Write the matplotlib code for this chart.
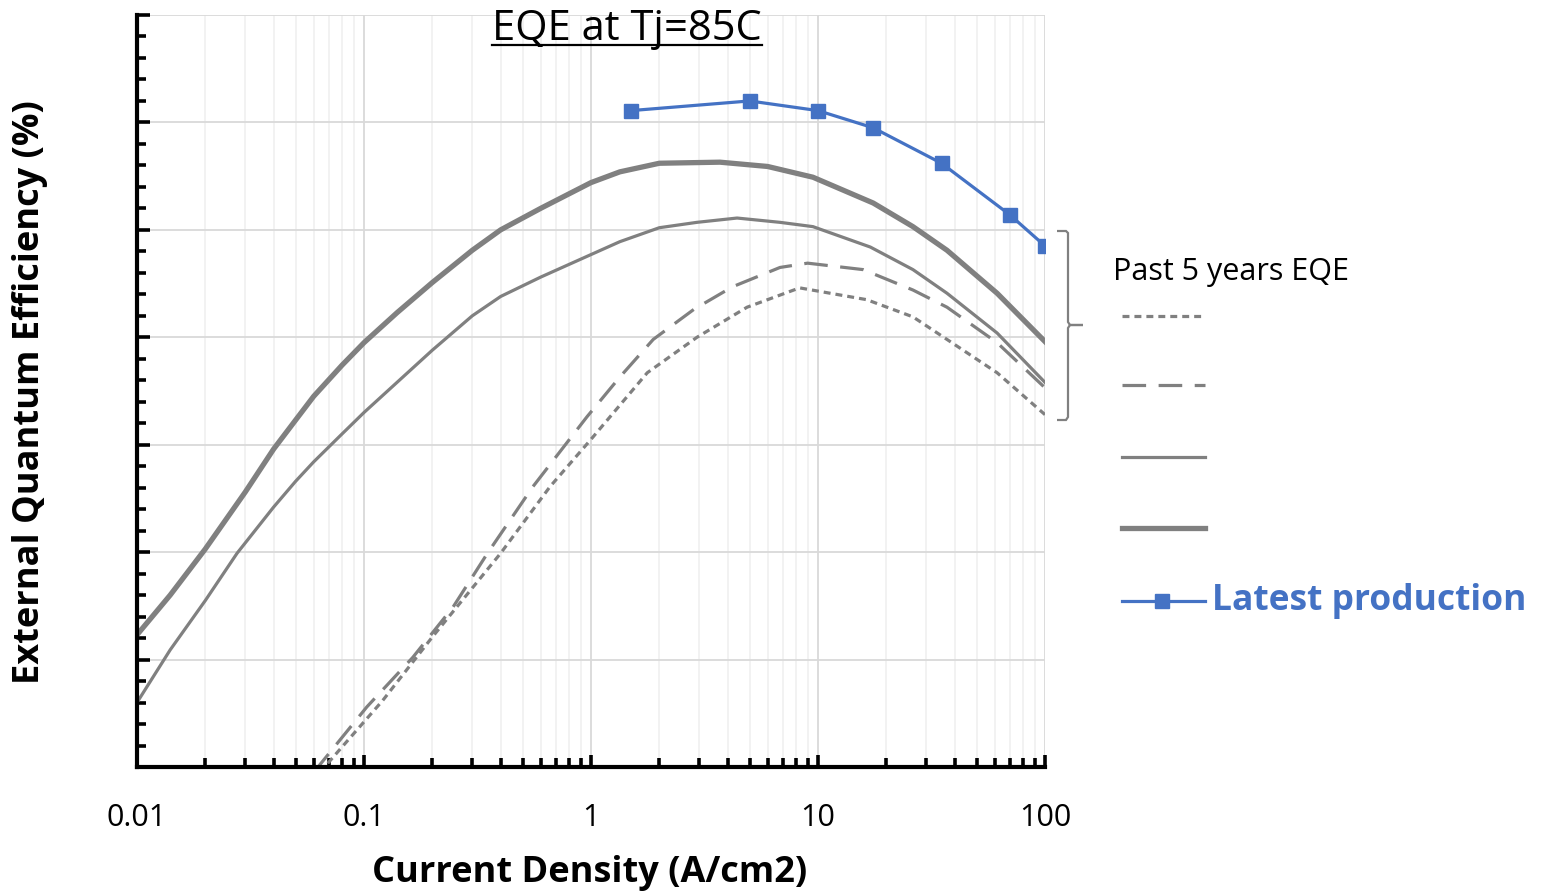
import matplotlib
matplotlib.use('Agg')
from matplotlib import pyplot as plt
from matplotlib.ticker import LogLocator, MultipleLocator, NullFormatter, FixedLocator
from matplotlib.lines import Line2D
from matplotlib.path import Path
from matplotlib.patches import PathPatch

plt.rcParams['font.family'] = ['Open Sans', 'DejaVu Sans']
plt.rcParams['lines.scale_dashes'] = False

# 读取图中的曲线数值（电流密度 A/cm2, EQE 相对刻度）
thick_x = [0.01, 0.014, 0.02, 0.03, 0.04, 0.05, 0.06, 0.08, 0.1, 0.14, 0.2, 0.3, 0.4, 0.6,
           1.0, 1.34, 2.0, 3.7, 6.0, 9.5, 17.5, 26.2, 37, 61.5, 100]
thick_y = [12.3, 16.0, 20.3, 25.6, 29.6, 32.3, 34.5, 37.4, 39.5, 42.3, 45.1, 48.1, 50.0, 52.0,
           54.4, 55.4, 56.2, 56.3, 55.9, 54.9, 52.5, 50.3, 48.1, 44.1, 39.6]

thin_x = [0.01, 0.014, 0.02, 0.0276, 0.04, 0.05, 0.06, 0.08, 0.1, 0.2, 0.3, 0.4, 0.6,
          1.0, 1.34, 2.0, 2.93, 4.4, 6.8, 9.5, 17, 26.2, 37, 61.5, 100]
thin_y = [6.0, 10.9, 15.5, 19.9, 24.2, 26.6, 28.4, 31.0, 33.0, 38.8, 42.0, 43.8, 45.6,
          47.7, 48.9, 50.2, 50.7, 51.1, 50.7, 50.3, 48.4, 46.3, 44.1, 40.4, 35.8]

dash_x = [0.06, 0.103, 0.164, 0.247, 0.35, 0.555, 0.96, 1.34, 1.88, 2.84, 4.2, 6.8,
          9.0, 15.8, 26.2, 37, 61.5, 100]
dash_y = [-0.5, 5.6, 10.2, 14.9, 19.9, 26.1, 32.6, 36.3, 39.8, 42.6, 44.7, 46.5,
          46.9, 46.3, 44.4, 42.8, 39.5, 35.3]

dot_x = [0.064, 0.073, 0.121, 0.20, 0.40, 0.66, 1.0, 1.77, 2.93, 4.87, 8.3, 16.4,
         26.2, 37, 61.5, 100]
dot_y = [-0.5, 0.9, 6.2, 12.1, 19.9, 26.1, 30.5, 36.7, 40.0, 42.8, 44.6, 43.5,
         41.9, 39.8, 36.7, 32.8]

latest_x = [1.5, 5, 10, 17.5, 35, 70, 100]
latest_y = [61.1, 62.0, 61.1, 59.5, 56.2, 51.4, 48.5]

xticks = [0.01, 0.1, 1, 10, 100]
xtick_labels = ['0.01', '0.1', '1', '10', '100']

gray = '#808080'
blue = '#4472C4'

W, H = 1546, 893
fig = plt.figure(figsize=(W / 100, H / 100), dpi=100)
ax = fig.add_axes([137 / W, 1 - 767 / H, (1045 - 137) / W, (767 - 15) / H])

def fx(px):
    return px / W

def fy(py):
    return 1 - py / H

ax.plot(dot_x, dot_y, color=gray, lw=2.3, dashes=(5, 3.6), dash_capstyle='butt')
ax.plot(dash_x, dash_y, color=gray, lw=2.3, dashes=(17, 9), dash_capstyle='butt')
ax.plot(thin_x, thin_y, color=gray, lw=2.3)
ax.plot(thick_x, thick_y, color=gray, lw=3.8)
ax.plot(latest_x, latest_y, color=blue, lw=2.3, marker='s', markersize=9.5)

ax.set_xscale('log')
ax.set_xlim(0.01, 100)
ax.set_ylim(0, 70)
ax.xaxis.set_major_locator(FixedLocator(xticks))
ax.set_xticklabels(xtick_labels)
ax.xaxis.set_minor_locator(LogLocator(base=10, subs=range(2, 10)))
ax.xaxis.set_minor_formatter(NullFormatter())
ax.yaxis.set_major_locator(MultipleLocator(10))
ax.yaxis.set_minor_locator(MultipleLocator(2))
ax.set_yticklabels([])

ax.grid(which='major', color='#d9d9d9', lw=1.3)
ax.grid(which='minor', axis='x', color='#efefef', lw=1.1)
ax.set_axisbelow(True)

for s in ['top', 'right']:
    ax.spines[s].set_visible(False)
for s in ['left', 'bottom']:
    ax.spines[s].set_linewidth(3)
    ax.spines[s].set_color('black')

ax.tick_params(which='major', direction='in', length=9, width=2.6, labelsize=22, pad=26)
ax.tick_params(which='minor', direction='in', length=6.5, width=2.6)

fig.text(fx(590), fy(873), 'Current Density (A/cm2)', fontsize=26, fontweight='bold',
         ha='center', va='center')
fig.text(fx(30), fy(392), 'External Quantum Efficiency (%)', fontsize=26, fontweight='bold',
         ha='center', va='center', rotation=90)

# 标题（带下划线）
title = fig.text(fx(627), fy(40), 'EQE at Tj=85C', fontsize=30, ha='center', va='baseline')
fig.canvas.draw()
bb = title.get_window_extent().transformed(fig.transFigure.inverted())
fig.add_artist(Line2D([bb.x0, bb.x1], [fy(45), fy(45)], color='black', lw=1.6))

# 右侧自定义图例
fig.text(fx(1113), fy(272), 'Past 5 years EQE', fontsize=22, ha='left', va='center')
lx = [fx(1122), fx(1205)]
fig.add_artist(Line2D(lx, [fy(316)] * 2, color=gray, lw=2.3, dashes=(5, 3.6), dash_capstyle='butt'))
fig.add_artist(Line2D(lx, [fy(385)] * 2, color=gray, lw=2.3, dashes=(17, 9), dash_capstyle='butt'))
fig.add_artist(Line2D(lx, [fy(457)] * 2, color=gray, lw=2.3))
fig.add_artist(Line2D(lx, [fy(528)] * 2, color=gray, lw=3.8))
fig.add_artist(Line2D(lx, [fy(601)] * 2, color=blue, lw=2.3))
fig.add_artist(Line2D([fx(1162)], [fy(601)], color=blue, marker='s', markersize=9.5))
fig.text(fx(1212), fy(601), 'Latest production', fontsize=25.5, fontweight='bold',
         color=blue, ha='left', va='center')

# 花括号
pts = [(1057, 231), (1066, 231), (1068, 233), (1068, 322), (1070, 325), (1083, 325),
       (1070, 325), (1068, 328), (1068, 417), (1066, 420), (1057, 420)]
verts = [(fx(x), fy(y)) for x, y in pts]
brace = PathPatch(Path(verts), transform=fig.transFigure, fill=False, edgecolor=gray, lw=1.6)
fig.add_artist(brace)

fig.savefig('out.png', dpi=100)
